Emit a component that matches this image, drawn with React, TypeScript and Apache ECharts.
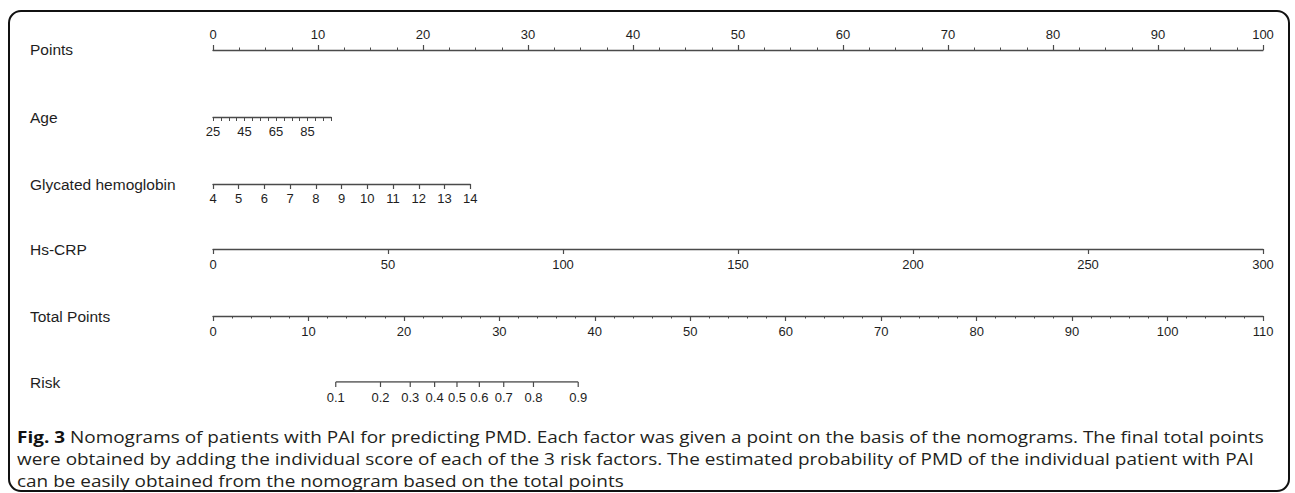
import React, { useEffect, useRef } from 'react';
import * as echarts from 'echarts';

// ---------- data ----------
const rowLabels = ['Points', 'Age', 'Glycated hemoglobin', 'Hs-CRP', 'Total Points', 'Risk'];

const pointsValues = [0, 10, 20, 30, 40, 50, 60, 70, 80, 90, 100];
const ageValues = [25, 30, 35, 40, 45, 50, 55, 60, 65, 70, 75, 80, 85, 90, 95, 100];
const ageLabelValues = [25, 45, 65, 85];
const agePointsAtMax = 11.25;
const hba1cValues = [4, 5, 6, 7, 8, 9, 10, 11, 12, 13, 14];
const hba1cPointsAtMax = 24.5;
const crpValues = [0, 50, 100, 150, 200, 250, 300];
const crpPointsAtMax = 100;
const totalPointsValues = [0, 10, 20, 30, 40, 50, 60, 70, 80, 90, 100, 110];
const riskValues = [0.1, 0.2, 0.3, 0.4, 0.5, 0.6, 0.7, 0.8, 0.9];
const riskIntercept = 25.56; // total points at risk 0.5
const riskSlope = 5.78; // total points per logit unit

const captionLines = [
  'Nomograms of patients with PAI for predicting PMD. Each factor was given a point on the basis of the nomograms. The final total points',
  'were obtained by adding the individual score of each of the 3 risk factors. The estimated probability of PMD of the individual patient with PAI',
  'can be easily obtained from the nomogram based on the total points',
];
const captionTitle = 'Fig. 3';

// ---------- layout ----------
const W = 1295;
const H = 493;
const AXIS_LEFT = 213;
const PX_PER_POINT = 10.5;
const FULL_W = 100 * PX_PER_POINT;
const rowY = [49, 117, 184, 249, 316, 382];
const LINE_COLOR = '#4a4a4a';
const TEXT_COLOR = '#1e1e1e';
const FONT = '"Liberation Sans", Arial, sans-serif';
const CAPTION_FONT = '"Open Sans", "Noto Sans", sans-serif';
const CAPTION_SIZE = 16;
const CAPTION_SCALE_X = 1.185;
const CAPTION_LH = 18;

const tpForRisk = (r: number) => riskIntercept + riskSlope * Math.log(r / (1 - r));

function baseAxis(extra: any) {
  return {
    type: 'value',
    axisLine: { show: true, lineStyle: { color: LINE_COLOR, width: 1.3 } },
    axisTick: { show: true, length: 5, inside: false, lineStyle: { color: LINE_COLOR, width: 1.2 } },
    axisLabel: { show: true, fontSize: 13, color: TEXT_COLOR, fontFamily: FONT, margin: 9, showMinLabel: true, showMaxLabel: true },
    splitLine: { show: false },
    ...extra,
  };
}

export default function App() {
  const ref = useRef<HTMLDivElement>(null);

  useEffect(() => {
    if (!ref.current) return;
    const chart = echarts.init(ref.current, undefined, { renderer: 'svg' });

    const grids = [
      { left: AXIS_LEFT, top: rowY[0], width: FULL_W, height: 1 },
      { left: AXIS_LEFT, top: rowY[1] - 1, width: agePointsAtMax * PX_PER_POINT, height: 1 },
      { left: AXIS_LEFT, top: rowY[2] - 1, width: hba1cPointsAtMax * PX_PER_POINT, height: 1 },
      { left: AXIS_LEFT, top: rowY[3] - 1, width: crpPointsAtMax * PX_PER_POINT, height: 1 },
      { left: AXIS_LEFT, top: rowY[4] - 1, width: FULL_W, height: 1 },
      { left: AXIS_LEFT, top: rowY[5] - 1, width: FULL_W, height: 1 },
    ].map((g) => ({ ...g, outerBoundsMode: 'none', containLabel: false }));

    const xAxes = [
      baseAxis({
        gridIndex: 0,
        position: 'top',
        min: pointsValues[0],
        max: pointsValues[pointsValues.length - 1],
        interval: pointsValues[1] - pointsValues[0],
        minorTick: { show: true, splitNumber: 4, length: 2.5, lineStyle: { color: LINE_COLOR, width: 1 } },
        axisLabel: { fontSize: 13, color: TEXT_COLOR, fontFamily: FONT, margin: 8 },
      }),
      baseAxis({
        gridIndex: 1,
        position: 'bottom',
        min: ageValues[0],
        max: ageValues[ageValues.length - 1],
        interval: ageValues[1] - ageValues[0],
        axisTick: { show: true, length: 4, lineStyle: { color: LINE_COLOR, width: 1 } },
        axisLabel: {
          fontSize: 13,
          color: TEXT_COLOR,
          fontFamily: FONT,
          margin: 8,
          showMinLabel: true,
          showMaxLabel: true,
          hideOverlap: false,
          formatter: (v: number) => (ageLabelValues.includes(v) ? String(v) : ''),
        },
      }),
      baseAxis({
        gridIndex: 2,
        position: 'bottom',
        min: hba1cValues[0],
        max: hba1cValues[hba1cValues.length - 1],
        interval: hba1cValues[1] - hba1cValues[0],
        axisLabel: { fontSize: 13, color: TEXT_COLOR, fontFamily: FONT, margin: 8, hideOverlap: false },
      }),
      baseAxis({
        gridIndex: 3,
        position: 'bottom',
        min: crpValues[0],
        max: crpValues[crpValues.length - 1],
        interval: crpValues[1] - crpValues[0],
      }),
      baseAxis({
        gridIndex: 4,
        position: 'bottom',
        min: totalPointsValues[0],
        max: totalPointsValues[totalPointsValues.length - 1],
        interval: totalPointsValues[1] - totalPointsValues[0],
        minorTick: { show: true, splitNumber: 5, length: 2.5, lineStyle: { color: LINE_COLOR, width: 1 } },
      }),
      {
        type: 'value',
        gridIndex: 5,
        show: false,
        min: totalPointsValues[0],
        max: totalPointsValues[totalPointsValues.length - 1],
      },
    ];

    const yAxes = grids.map((_, i) => ({ type: 'value', gridIndex: i, show: false, min: 0, max: 1 }));

    const option: any = {
      animation: false,
      backgroundColor: '#ffffff',
      grid: grids,
      xAxis: xAxes,
      yAxis: yAxes,
      series: [
        {
          type: 'line',
          xAxisIndex: 5,
          yAxisIndex: 5,
          silent: true,
          symbol: 'none',
          data: riskValues.map((r) => [tpForRisk(r), 0]),
          lineStyle: { color: LINE_COLOR, width: 1.3 },
        },
        {
          type: 'custom',
          xAxisIndex: 5,
          yAxisIndex: 5,
          silent: true,
          data: riskValues.map((r) => [tpForRisk(r), r]),
          renderItem: (params: any, api: any) => {
            const p = api.coord([api.value(0), 0]);
            const label = riskValues[params.dataIndex].toFixed(1);
            return {
              type: 'group',
              children: [
                {
                  type: 'line',
                  shape: { x1: p[0], y1: p[1], x2: p[0], y2: p[1] + 5 },
                  style: { stroke: LINE_COLOR, lineWidth: 1.2 },
                },
                {
                  type: 'text',
                  x: p[0],
                  y: p[1] + 9,
                  style: {
                    text: label,
                    align: 'center',
                    verticalAlign: 'top',
                    textAlign: 'center',
                    textVerticalAlign: 'top',
                    fontSize: 13,
                    fontFamily: FONT,
                    fill: TEXT_COLOR,
                  },
                },
              ],
            };
          },
        },
      ],
      graphic: [
        {
          type: 'rect',
          shape: { x: 9, y: 11, width: 1280, height: 480, r: 12 },
          style: { fill: 'none', stroke: '#111', lineWidth: 2 },
          silent: true,
        },
        ...rowLabels.map((t, i) => ({
          type: 'text',
          x: 30,
          y: rowY[i],
          style: {
            text: t,
            fontSize: 15.5,
            fontFamily: FONT,
            fill: TEXT_COLOR,
            align: 'left',
            verticalAlign: 'middle',
            textAlign: 'left',
            textVerticalAlign: 'middle',
          },
        })),
        {
          type: 'text',
          x: 17,
          y: 437,
          scaleX: CAPTION_SCALE_X,
          style: {
            text: '{b|' + captionTitle + '} ' + captionLines[0],
            fontSize: CAPTION_SIZE,
            lineHeight: CAPTION_LH,
            fontFamily: CAPTION_FONT,
            fill: '#231f20',
            verticalAlign: 'middle',
            textVerticalAlign: 'middle',
            rich: {
              b: {
                fontSize: CAPTION_SIZE,
                lineHeight: CAPTION_LH,
                fontWeight: 'bold',
                fontFamily: CAPTION_FONT,
                fill: '#111',
                color: '#111',
              },
            },
          },
        },
        ...captionLines.slice(1).map((t, i) => ({
          type: 'text',
          x: 17,
          y: 459 + i * 22,
          scaleX: CAPTION_SCALE_X,
          style: {
            text: t,
            fontSize: CAPTION_SIZE,
            lineHeight: CAPTION_LH,
            fontFamily: CAPTION_FONT,
            fill: '#231f20',
            verticalAlign: 'middle',
            textVerticalAlign: 'middle',
          },
        })),
      ],
    };

    chart.setOption(option);
    return () => chart.dispose();
  }, []);

  return (
    <div
      ref={ref}
      style={{ position: 'absolute', left: 0, top: 0, width: W, height: H, background: '#fff' }}
    />
  );
}
